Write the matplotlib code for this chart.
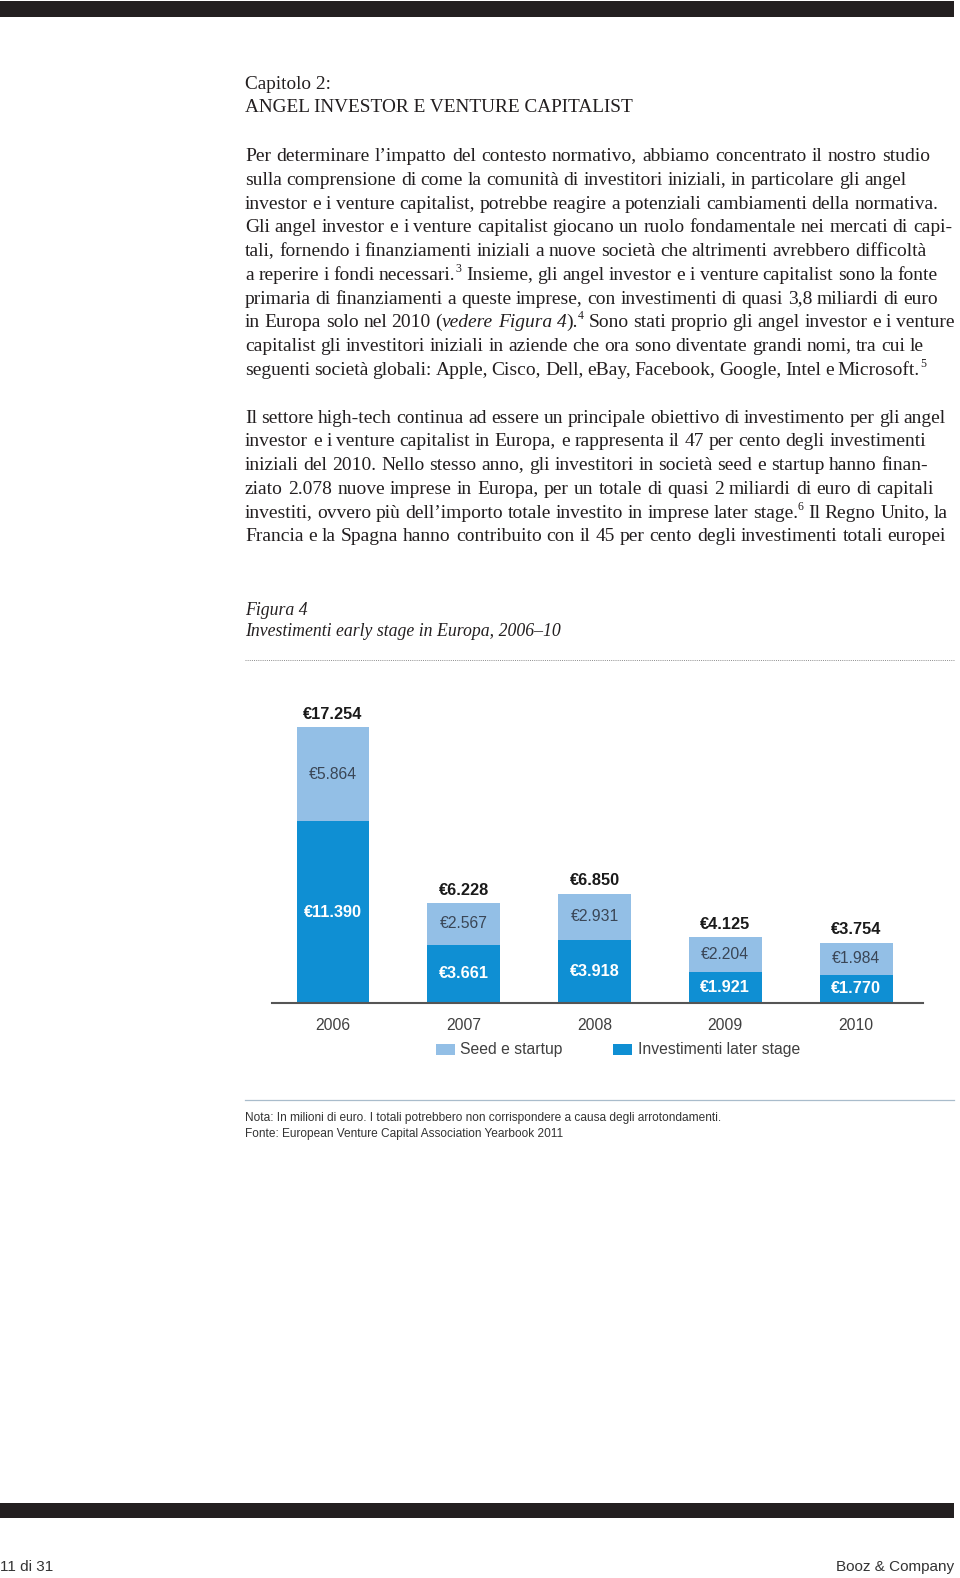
import math
import matplotlib
matplotlib.use('Agg')
import matplotlib.pyplot as plt
from matplotlib.patches import Rectangle
from matplotlib.lines import Line2D
from matplotlib.font_manager import FontProperties

# ---------------- data ----------------
years = ['2006', '2007', '2008', '2009', '2010']
seed_startup = [5864, 2567, 2931, 2204, 1984]
later_stage = [11390, 3661, 3918, 1921, 1770]
totals = [17254, 6228, 6850, 4125, 3754]
legend_labels = ['Seed e startup', 'Investimenti later stage']

chapter_lines = ['Capitolo 2:', 'ANGEL INVESTOR E VENTURE CAPITALIST']
figure_title = ['Figura 4', 'Investimenti early stage in Europa, 2006–10']
notes = ['Nota: In milioni di euro. I totali potrebbero non corrispondere a causa degli arrotondamenti.',
         'Fonte: European Venture Capital Association Yearbook 2011']
footer_left = '11 di 31'
footer_right = 'Booz & Company'

paragraph1 = [
    [("Per determinare l’impatto del contesto normativo, abbiamo concentrato il nostro studio", 'n')],
    [("sulla comprensione di come la comunità di investitori iniziali, in particolare gli angel", 'n')],
    [("investor e i venture capitalist, potrebbe reagire a potenziali cambiamenti della normativa.", 'n')],
    [("Gli angel investor e i venture capitalist giocano un ruolo fondamentale nei mercati di capi-", 'n')],
    [("tali, fornendo i finanziamenti iniziali a nuove società che altrimenti avrebbero difficoltà", 'n')],
    [("a reperire i fondi necessari.", 'n'), ("3", 's'),
     (" Insieme, gli angel investor e i venture capitalist sono la fonte", 'n')],
    [("primaria di finanziamenti a queste imprese, con investimenti di quasi 3,8 miliardi di euro", 'n')],
    [("in Europa solo nel 2010 (", 'n'), ("vedere Figura 4", 'i'), (").", 'n'), ("4", 's'),
     (" Sono stati proprio gli angel investor e i venture", 'n')],
    [("capitalist gli investitori iniziali in aziende che ora sono diventate grandi nomi, tra cui le", 'n')],
    [("seguenti società globali: Apple, Cisco, Dell, eBay, Facebook, Google, Intel e Microsoft.", 'n'), ("5", 's')],
]
paragraph2 = [
    [("Il settore high-tech continua ad essere un principale obiettivo di investimento per gli angel", 'n')],
    [("investor e i venture capitalist in Europa, e rappresenta il 47 per cento degli investimenti", 'n')],
    [("iniziali del 2010. Nello stesso anno, gli investitori in società seed e startup hanno finan-", 'n')],
    [("ziato 2.078 nuove imprese in Europa, per un totale di quasi 2 miliardi di euro di capitali", 'n')],
    [("investiti, ovvero più dell’importo totale investito in imprese later stage.", 'n'), ("6", 's'),
     (" Il Regno Unito, la", 'n')],
    [("Francia e la Spagna hanno contribuito con il 45 per cento degli investimenti totali europei", 'n')],
]

# ---------------- layout / styles ----------------
W, H, DPI = 960, 1578, 100
SERIF = ['Liberation Serif', 'DejaVu Serif']
SANS = ['Liberation Sans', 'DejaVu Sans']
NARROW = ['Liberation Sans Narrow', 'Liberation Sans', 'DejaVu Sans']
INK = '#231f20'
LIGHT = '#93bfe6'
DARK = '#0f8fd3'
TEXT_LEFT = 245
P1_RIGHT = [930, 906, 938, 952, 926, 938, 938, 954, 924, 926]
P2_RIGHT = [946, 926, 928, 934, 948, 946]

fig = plt.figure(figsize=(W / DPI, H / DPI), dpi=DPI)
fig.patch.set_facecolor('white')
renderer = fig.canvas.get_renderer()


def fx(x):
    return x / W


def fy(y):
    return 1 - y / H


def width_px(s, **kw):
    t1 = fig.text(0, 0, '|' + s + '|', **kw)
    w1 = t1.get_window_extent(renderer).width
    t1.remove()
    t2 = fig.text(0, 0, '||', **kw)
    w2 = t2.get_window_extent(renderer).width
    t2.remove()
    return w1 - w2


def fit_size(s, target, **kw):
    return 12 * target / width_px(s, fontsize=12, **kw)


def euro(v):
    return '€' + f'{v:,}'.replace(',', '.')


def aligned_baseline(s, kw, target):
    """Top-down y so that the rasterised baseline of s lands on the integer row `target`."""
    try:
        from matplotlib.backends.backend_agg import get_hinting_flag
        prop = FontProperties(family=kw['family'], size=kw['fontsize'],
                              style=kw.get('style', 'normal'))
        font = renderer._prepare_font(prop)
        font.set_text(s, 0, flags=get_hinting_flag())
        d = font.get_descent() / 64.0
        h = font.get_width_height()[1] / 64.0
        ymax = h - d
        return target + math.floor(h) - math.floor(ymax) - d
    except Exception:
        return target


# ---------------- page bars ----------------
fig.add_artist(Rectangle((0, fy(16.5)), fx(954), 15.5 / H, transform=fig.transFigure,
                         color=INK, lw=0))
fig.add_artist(Rectangle((0, fy(1518)), fx(954), 15 / H, transform=fig.transFigure,
                         color=INK, lw=0))

# ---------------- headings ----------------
head_size = fit_size(chapter_lines[1], 387, family=SERIF)
for i, line in enumerate(chapter_lines):
    fig.text(fx(TEXT_LEFT), fy(89 + i * 23.2), line, family=SERIF, fontsize=head_size,
             color=INK, va='baseline', ha='left')


# ---------------- body text (word by word, spaced to the reference line ends) ----------------
def piece_kw(kind, size):
    kw = dict(family=SERIF, color=INK, va='baseline', ha='left', fontsize=size)
    if kind == 'i':
        kw['style'] = 'italic'
    elif kind == 's':
        kw['fontsize'] = size * 0.6
    return kw


def line_fit(segs, right):
    natural = sum(width_px(t, **piece_kw(k, 12)) for t, k in segs)
    return 12 * (right - TEXT_LEFT) / natural


all_lines = list(zip(paragraph1, P1_RIGHT)) + list(zip(paragraph2, P2_RIGHT))
fits = sorted(line_fit(s, r) for s, r in all_lines)
body_size = fits[len(fits) // 2]


def split_words(segs):
    words = [[]]
    for txt, kind in segs:
        parts = txt.split(' ')
        for j, p in enumerate(parts):
            if j > 0:
                words.append([])
            if p:
                words[-1].append((p, kind))
    return [w for w in words if w]


def draw_line(segs, y, right):
    words = split_words(segs)
    widths = [[width_px(p, **piece_kw(k, body_size)) for p, k in w] for w in words]
    total = sum(sum(ws) for ws in widths)
    space = width_px(' ', **piece_kw('n', body_size))
    gap = (right - TEXT_LEFT - total) / max(len(words) - 1, 1)
    gap = min(max(gap, 0.6 * space), 1.6 * space)
    x = TEXT_LEFT
    for w, ws in zip(words, widths):
        for (p, k), pw in zip(w, ws):
            kw = piece_kw(k, body_size)
            target = y - (round(body_size * 0.42 * DPI / 72) if k == 's' else 0)
            fig.text(fx(x), fy(aligned_baseline(p, kw, target)), p, **kw)
            x += pw
        x += gap


LINE = 23.78
TOP = 161.0
for i, (segs, right) in enumerate(all_lines):
    row = i if i < len(paragraph1) else i + 1
    draw_line(segs, round(TOP + row * LINE), right)

# ---------------- figure title ----------------
title_size = fit_size(figure_title[1], 317, family=SERIF, style='italic')
fig.text(fx(TEXT_LEFT), fy(615.5), figure_title[0], family=SERIF, style='italic',
         fontsize=title_size, color=INK, va='baseline')
fig.text(fx(TEXT_LEFT), fy(636.5), figure_title[1], family=SERIF, style='italic',
         fontsize=title_size, color=INK, va='baseline')
fig.add_artist(Line2D([fx(TEXT_LEFT), fx(954)], [fy(660), fy(660)], transform=fig.transFigure,
                      color='#8c8c8c', lw=0.7, linestyle=(0, (1, 1.2))))

# ---------------- chart ----------------
ax_left, ax_right, ax_bottom, ax_top = 272, 923, 1003, 690
ax = fig.add_axes([fx(ax_left), fy(ax_bottom), (ax_right - ax_left) / W, (ax_bottom - ax_top) / H])
x = list(range(len(years)))
bw = 0.558
b_dark = ax.bar(x, later_stage, bw, color=DARK, lw=0)
b_light = ax.bar(x, seed_startup, bw, bottom=later_stage, color=LIGHT, lw=0)
ax.set_xlim(-0.4665, 4.512)
ax.set_ylim(0, max(totals) * (ax_bottom - ax_top) / 275.7)

ax.bar_label(b_dark, labels=[euro(v) for v in later_stage], label_type='center',
             color='white', fontsize=11.7, fontweight='bold', family=SANS)
ax.bar_label(b_light, labels=[euro(v) for v in seed_startup], label_type='center',
             color='#3a4656', fontsize=11.3, family=SANS)
ax.bar_label(b_light, labels=[euro(v) for v in totals], padding=4.0,
             color='#1a1a1a', fontsize=11.8, fontweight='bold', family=SANS)

for s in ['top', 'left', 'right']:
    ax.spines[s].set_visible(False)
ax.spines['bottom'].set_color('#555555')
ax.spines['bottom'].set_linewidth(1.5)
ax.set_yticks([])
ax.set_xticks(x, labels=years)
ax.tick_params(axis='x', length=0, pad=10.5, labelsize=11.3, labelcolor='#404040')
for lab in ax.get_xticklabels():
    lab.set_family(SANS)
ax.patch.set_alpha(0)

# legend
for (x0, lab, col) in [(436, legend_labels[0], LIGHT), (613, legend_labels[1], DARK)]:
    fig.add_artist(Rectangle((fx(x0), fy(1055)), 19 / W, 11 / H, transform=fig.transFigure,
                             color=col, lw=0))
    fig.text(fx(x0 + 24.5), fy(1049.5), lab, family=SANS, fontsize=11.3, color='#404040',
             va='center', ha='left')

# ---------------- notes ----------------
fig.add_artist(Line2D([fx(TEXT_LEFT), fx(954)], [fy(1100), fy(1100)], transform=fig.transFigure,
                      color='#a9bccb', lw=0.9))
note_size = fit_size(notes[0], 478, family=NARROW)
for i, n in enumerate(notes):
    fig.text(fx(TEXT_LEFT), fy(1120.5 + i * 16), n, family=NARROW, fontsize=note_size,
             color='#333333', va='baseline')

# ---------------- footer ----------------
fig.text(fx(0), fy(1571), footer_left, family=SANS, fontsize=11, color='#333333',
         va='baseline', ha='left')
fig.text(fx(954), fy(1571), footer_right, family=SANS, fontsize=11, color='#333333',
         va='baseline', ha='right')

fig.savefig('out.png', dpi=DPI, facecolor='white')
